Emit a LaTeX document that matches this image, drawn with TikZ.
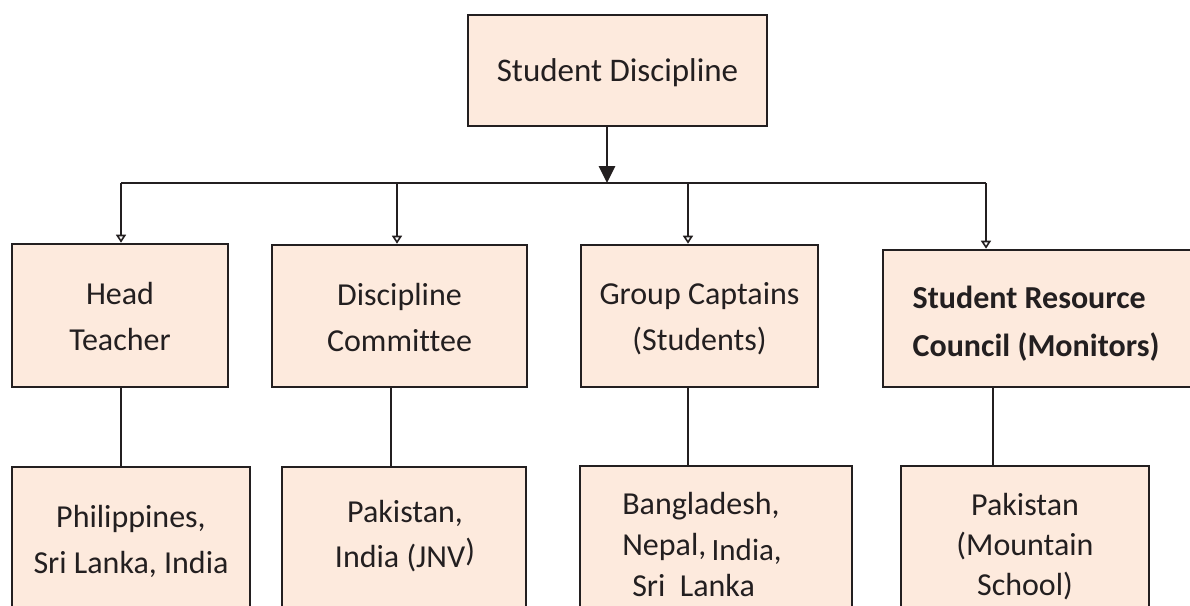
\documentclass[tikz,border=0pt]{standalone}
\usepackage{fontspec}
\setmainfont{Carlito}[Ligatures=NoCommon]
\usetikzlibrary{arrows.meta}
\definecolor{boxfill}{HTML}{FDEADD}
\definecolor{ink}{HTML}{231F20}

\begin{document}
\begin{tikzpicture}[x=1pt,y=-1pt,
  box/.style={draw=ink, fill=boxfill, line width=2.6pt, inner sep=0pt, rectangle},
  lbl/.style={text=ink, align=center, inner sep=0pt, font=\fontsize{32}{46}\selectfont},
  wire/.style={draw=ink, line width=2pt},
  mainarrow/.style={draw=ink, line width=2.8pt, -{Triangle[length=17pt, width=16pt]}},
  subarrow/.style={draw=ink, line width=2pt, -{Triangle[open, length=8pt, width=10pt, line width=1.6pt]}},
]
\useasboundingbox (0,0) rectangle (1190,605);
\clip (0,0) rectangle (1190,605);

% top level
\node[box, minimum width=299, minimum height=111] (top) at (617.5,70.5) {};
\node[lbl, font=\fontsize{33}{40}\selectfont] (topt) at (617.5,72.5) {Student Discipline};

% second level
\node[box, minimum width=216, minimum height=143] (head) at (120,315.5) {};
\node[box, minimum width=255, minimum height=142] (disc) at (399.5,316) {};
\node[box, minimum width=237, minimum height=142] (group) at (699.5,316) {};
\node[box, minimum width=309, minimum height=137] (src) at (1037.5,318.5) {};

\node[lbl] (headt) at (120,317) {Head\\Teacher};
\node[lbl] (disct) at (399.5,317.5) {Discipline\\Committee};
\node[lbl] (groupt) at (699.5,319) {Group Captains\\(Students)};
\node[lbl, align=left, font=\fontsize{32}{48}\selectfont\bfseries] (srct) at (1036,324)
  {Student Resource\\Council (Monitors)};

% third level
\node[box, minimum width=238, minimum height=160] (phil) at (131,547) {};
\node[box, minimum width=244, minimum height=160] (pak) at (404,547) {};
\node[box, minimum width=272, minimum height=160] (bang) at (716,546) {};
\node[box, minimum width=248, minimum height=160] (mnt) at (1025,546) {};

\node[lbl, font=\fontsize{32}{46}\selectfont] (philt) at (131,541.5) {Philippines,\\Sri Lanka, India};
\node[lbl, font=\fontsize{32}{45}\selectfont] (pakt) at (405,536) {Pakistan,\\India (JNV\raisebox{6pt}{)}};
\node[lbl, align=left, font=\fontsize{32}{41}\selectfont] (bangt) at (702,544)
  {Bangladesh,\\Nepal,\,\raisebox{-5pt}{\fontsize{31}{31}\selectfont India,}\\\hspace*{10pt}Sri~~Lanka};
\node[lbl, font=\fontsize{32}{40}\selectfont] (mntt) at (1025,547) {Pakistan\\(Mountain\\School)};

% distribution bus
\coordinate (hub) at (607,183);
\coordinate (k1) at (121,183);
\coordinate (k2) at (397,183);
\coordinate (k3) at (688,183);
\coordinate (k4) at (986,183);

\draw[mainarrow] (top.south -| hub) -- (hub);
\draw[wire] (k1) -- (k4);
\draw[subarrow] (k1) -- (k1 |- head.north);
\draw[subarrow] (k2) -- (k2 |- disc.north);
\draw[subarrow] (k3) -- (k3 |- group.north);
\draw[subarrow] (k4) -- (k4 |- src.north);

% links to the country boxes
\coordinate (d1) at (121,0);
\coordinate (d2) at (391,0);
\coordinate (d3) at (688,0);
\coordinate (d4) at (993,0);
\draw[wire] (head.south -| d1) -- (phil.north -| d1);
\draw[wire] (disc.south -| d2) -- (pak.north -| d2);
\draw[wire] (group.south -| d3) -- (bang.north -| d3);
\draw[wire] (src.south -| d4) -- (mnt.north -| d4);
\end{tikzpicture}
\end{document}
